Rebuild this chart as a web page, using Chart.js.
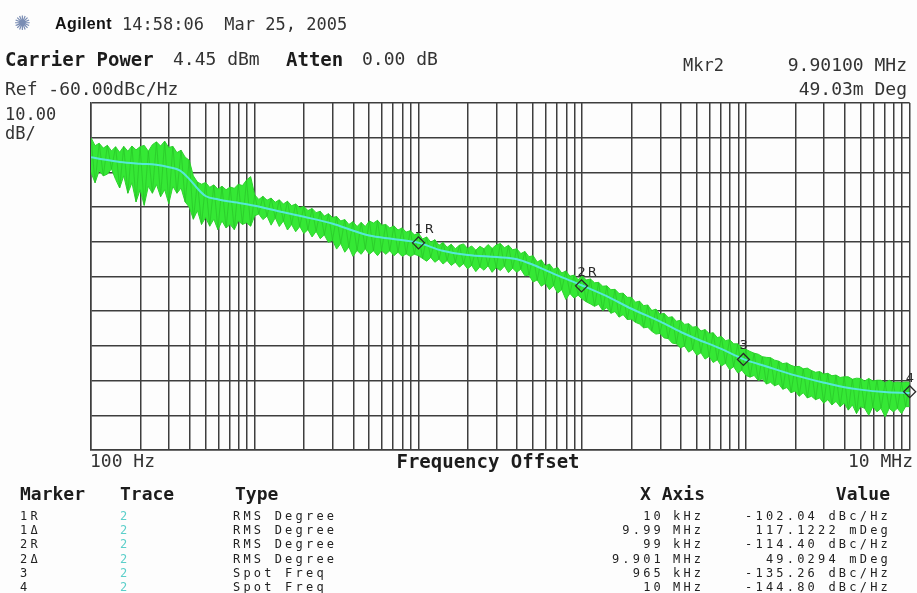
<!DOCTYPE html>
<html><head><meta charset="utf-8">
<script src="https://cdn.jsdelivr.net/npm/chart.js@4.4.1/dist/chart.umd.min.js"></script>
<style>
html,body{margin:0;padding:0;background:#fff;}
#wrap{position:relative;width:917px;height:593px;overflow:hidden;background:#fdfdfd;}
#c{position:absolute;left:0;top:0;}
.t{position:absolute;white-space:pre;color:#1c1c1c;font-family:"DejaVu Sans Mono",monospace;line-height:20px;height:20px;}
.b{font-weight:bold;}
.r{text-align:right;}
.row{position:absolute;white-space:pre;font-family:"DejaVu Sans Mono",monospace;font-size:12px;letter-spacing:3.2px;line-height:14px;height:14px;color:#222;}
</style></head>
<body>
<div id="wrap">
<canvas id="c" width="917" height="593"></canvas>
<div class="t" style="left:14px;top:12px;font-family:'DejaVu Sans';font-size:20px;color:#7a8db4;line-height:22px;height:22px;">✺</div>
<div class="t b" style="left:55px;top:14px;font-family:'Liberation Sans';font-size:16px;letter-spacing:0.4px;color:#111;">Agilent</div>
<div class="t" style="left:122px;top:14px;font-size:17px;color:#333;">14:58:06  Mar 25, 2005</div>
<div class="t b" style="left:5px;top:49px;font-size:19px;">Carrier Power</div>
<div class="t" style="left:173px;top:49px;font-size:18px;color:#333;">4.45 dBm</div>
<div class="t b" style="left:286px;top:49px;font-size:19px;">Atten</div>
<div class="t" style="left:362px;top:49px;font-size:18px;color:#333;">0.00 dB</div>
<div class="t" style="left:683px;top:55px;font-size:17px;color:#333;">Mkr2</div>
<div class="t r" style="left:705px;width:202px;top:55px;font-size:18px;color:#333;">9.90100 MHz</div>
<div class="t" style="left:5px;top:79px;font-size:18px;color:#333;">Ref -60.00dBc/Hz</div>
<div class="t r" style="left:705px;width:202px;top:79px;font-size:18px;color:#333;">49.03m Deg</div>
<div class="t" style="left:5px;top:104px;font-size:17px;color:#333;">10.00</div>
<div class="t" style="left:5px;top:123px;font-size:17px;color:#333;">dB/</div>
<div class="t" style="left:90px;top:451px;font-size:18px;color:#333;">100 Hz</div>
<div class="t b" style="left:288px;width:400px;text-align:center;top:451px;font-size:19px;">Frequency Offset</div>
<div class="t r" style="left:713px;width:200px;top:451px;font-size:18px;color:#333;">10 MHz</div>
<div class="t b" style="left:20px;top:484px;font-size:18px;">Marker</div>
<div class="t b" style="left:120px;top:484px;font-size:18px;">Trace</div>
<div class="t b" style="left:235px;top:484px;font-size:18px;">Type</div>
<div class="t b r" style="left:505px;width:200px;top:484px;font-size:18px;">X Axis</div>
<div class="t b r" style="left:690px;width:200px;top:484px;font-size:18px;">Value</div>
<div id="rows"></div>
</div>
<script>
// ---- data ----
const decadeStarts = [100, 1000, 10000, 100000, 1000000];
const bandSteps = [1.000,1.059,1.122,1.189,1.259,1.334,1.413,1.496,1.585,1.679,1.778,1.884,1.995,2.113,2.239,2.371,2.512,2.661,2.818,2.985,3.162,3.350,3.548,3.758,3.981,4.217,4.467,4.732,5.012,5.309,5.623,5.957,6.310,6.683,7.079,7.499,7.943,8.414,8.913,9.441];
const upperD1 = [-70.0,-72.3,-71.6,-73.0,-72.2,-73.8,-72.6,-74.2,-72.5,-73.9,-72.4,-73.5,-72.6,-72.2,-73.9,-72.0,-71.2,-72.4,-71.0,-72.8,-72.5,-74.3,-73.6,-75.6,-76.5,-81.0,-82.8,-83.4,-82.9,-84.3,-83.6,-84.8,-84.0,-85.0,-84.2,-84.6,-83.4,-83.8,-82.2,-81.2];
const lowerD1 = [-80.0,-83.0,-79.5,-81.0,-80.5,-79.0,-82.0,-84.5,-81.0,-86.0,-83.0,-88.5,-85.0,-89.5,-84.0,-86.0,-83.5,-87.0,-85.0,-89.0,-84.0,-86.0,-84.5,-88.5,-90.0,-93.5,-91.0,-95.0,-93.0,-95.5,-93.5,-96.5,-94.0,-96.0,-95.0,-96.5,-94.0,-95.0,-94.5,-95.5];
const upperD2 = [-86.5,-87.8,-86.9,-88.0,-87.4,-88.6,-87.9,-89.1,-88.3,-89.6,-89.1,-90.2,-89.8,-91.0,-90.4,-91.6,-91.2,-92.6,-91.9,-93.0,-92.7,-94.0,-93.6,-95.0,-94.2,-95.6,-94.4,-95.6,-94.0,-94.6,-93.8,-95.2,-95.0,-96.0,-95.4,-96.6,-96.0,-97.2,-96.8,-98.0];
const lowerD2 = [-92.5,-92.0,-93.6,-92.6,-95.2,-93.1,-95.6,-94.0,-96.6,-95.0,-97.1,-95.6,-97.6,-96.5,-98.6,-97.0,-99.1,-98.0,-100.2,-99.5,-102.1,-100.5,-103.0,-101.5,-104.2,-102.5,-103.6,-102.0,-103.6,-102.6,-104.0,-102.5,-103.6,-102.6,-104.0,-103.0,-104.2,-103.5,-104.2,-103.6];
const upperD3 = [-97.5,-99.2,-98.6,-100.1,-99.4,-101.0,-100.2,-101.6,-100.7,-102.0,-101.0,-100.6,-101.9,-101.2,-102.4,-101.3,-102.0,-100.8,-101.9,-100.9,-100.5,-101.7,-101.0,-102.3,-102.0,-103.4,-102.8,-104.3,-104.0,-105.8,-105.2,-106.9,-106.4,-107.9,-107.4,-109.0,-108.4,-109.9,-109.6,-110.9];
const lowerD3 = [-104.0,-104.8,-105.6,-104.5,-105.9,-105.0,-106.4,-105.4,-106.8,-105.9,-107.3,-106.3,-107.8,-106.8,-108.6,-107.2,-108.2,-106.9,-108.8,-107.4,-108.3,-107.0,-108.9,-107.6,-108.8,-107.9,-109.8,-109.6,-111.6,-111.0,-112.8,-112.0,-113.8,-112.6,-114.8,-113.8,-116.6,-114.9,-116.2,-115.4];
const upperD4 = [-109.8,-111.0,-110.7,-111.8,-111.7,-112.8,-112.7,-113.8,-113.7,-114.9,-114.8,-116.0,-116.0,-117.4,-117.1,-118.4,-118.2,-119.8,-119.4,-120.9,-120.6,-121.8,-121.6,-122.9,-122.6,-123.8,-123.6,-124.6,-124.4,-125.7,-125.3,-126.4,-126.2,-127.6,-127.3,-128.5,-128.2,-129.4,-129.4,-130.6];
const lowerD4 = [-116.5,-117.3,-117.9,-118.6,-118.0,-119.8,-119.0,-120.6,-120.1,-121.7,-121.0,-122.4,-122.3,-123.2,-123.7,-124.8,-124.6,-125.8,-126.6,-126.4,-127.7,-127.9,-129.2,-129.4,-130.6,-130.0,-131.8,-131.0,-132.7,-132.0,-133.8,-133.0,-134.8,-134.0,-135.8,-135.0,-136.8,-136.0,-137.8,-137.0];
const upperD5 = [-131.0,-131.6,-132.1,-132.4,-133.1,-133.3,-133.4,-134.1,-134.4,-135.1,-134.9,-135.6,-136.0,-135.9,-136.6,-136.4,-137.1,-137.6,-137.4,-138.1,-137.9,-138.6,-138.4,-139.1,-138.9,-138.9,-139.6,-139.3,-139.4,-140.1,-139.4,-140.1,-139.9,-139.9,-140.6,-139.9,-140.6,-140.4,-140.6,-140.4];
const lowerD5 = [-138.5,-139.0,-138.5,-140.0,-139.5,-141.0,-140.5,-141.5,-141.0,-142.5,-142.0,-143.5,-143.0,-144.5,-143.5,-145.0,-144.5,-145.5,-145.0,-146.5,-145.5,-147.0,-146.0,-147.5,-146.5,-148.5,-147.0,-149.5,-147.5,-148.0,-150.0,-147.5,-149.0,-148.0,-150.5,-148.0,-149.0,-148.0,-149.5,-147.5];
const bandEndFreq = 10000000, bandEndUpper = -140.5, bandEndLower = -147.5;

const smoothFreq  = [100,120,150,200,250,300,350,400,450,500,600,700,800,1000,1400,2000,3000,4000,5000,7000,10000,14000,20000,30000,40000,50000,70000,100000,140000,200000,300000,400000,500000,700000,965000,1350000,2000000,3000000,4000000,5000000,7000000,10000000];
const smoothLevel = [-75.6,-76.3,-77.0,-77.5,-77.8,-78.5,-79.5,-82.0,-84.8,-86.8,-87.8,-88.4,-88.8,-89.6,-91.2,-92.8,-94.8,-96.8,-98.2,-99.2,-100.3,-102.6,-103.8,-104.4,-105.0,-106.6,-109.6,-112.6,-115.6,-119.3,-123.0,-126.0,-128.0,-130.8,-133.8,-136.0,-138.5,-140.6,-141.9,-142.6,-143.3,-143.6];

const markerFreq  = [10000, 99000, 965000, 10000000];
const markerLevel = [-100.3, -112.7, -133.9, -143.2];
const markerLabels = ['1R','2R','3','4'];

const xMin = 100, xMax = 10000000, yMin = -160, yMax = -60, yStep = 10;
const gridMultipliers = [1,2,3,4,5,6,7,8,9];

const tableMarker = ['1R','1\u0394','2R','2\u0394','3','4'];
const tableTrace  = ['2','2','2','2','2','2'];
const tableType   = ['RMS Degree','RMS Degree','RMS Degree','RMS Degree','Spot Freq','Spot Freq'];
const tableXNum   = ['10','9.99','99','9.901','965','10'];
const tableXUnit  = ['kHz','MHz','kHz','MHz','kHz','MHz'];
const tableValue  = ['-102.04 dBc/Hz','117.1222 mDeg','-114.40 dBc/Hz','49.0294 mDeg','-135.26 dBc/Hz','-144.80 dBc/Hz'];

// ---- build tables ----
const upperAll = [upperD1,upperD2,upperD3,upperD4,upperD5];
const lowerAll = [lowerD1,lowerD2,lowerD3,lowerD4,lowerD5];
const upperPts = [], lowerPts = [];
decadeStarts.forEach((d, di) => {
  bandSteps.forEach((s, si) => {
    upperPts.push({x: d * s, y: upperAll[di][si]});
    lowerPts.push({x: d * s, y: lowerAll[di][si]});
  });
});
upperPts.push({x: bandEndFreq, y: bandEndUpper});
lowerPts.push({x: bandEndFreq, y: bandEndLower});
// raw trace swinging between the read peak and dip of each sample
const rawPts = upperPts.map((p, i) => (i % 2 === 0 ? p : lowerPts[i]));
const smoothPts = smoothFreq.map((f, i) => ({x: f, y: smoothLevel[i]}));
const markerPts = markerFreq.map((f, i) => ({x: f, y: markerLevel[i]}));
const xGridFreqs = [];
decadeStarts.forEach(d => gridMultipliers.forEach(m => xGridFreqs.push(d * m)));
xGridFreqs.push(xMax);

// ---- table rows ----
const rowsEl = document.getElementById('rows');
tableMarker.forEach((m, i) => {
  const top = 509 + i * 14.2;
  const mk = (left, text, extra) => {
    const d = document.createElement('div');
    d.className = 'row';
    d.style.cssText += extra || '';
    d.style.top = top + 'px';
    d.style.left = left + 'px';
    d.textContent = text;
    rowsEl.appendChild(d);
    return d;
  };
  mk(20, m);
  mk(120, tableTrace[i], 'color:#5ccfca;');
  mk(233, tableType[i]);
  mk(461, tableXNum[i], 'width:203px;text-align:right;');
  mk(673, tableXUnit[i]);
  mk(688, tableValue[i], 'width:203px;text-align:right;');
});

// ---- chart ----
const gridColor = '#3e3e3e';
const markerLabelPlugin = {
  id: 'mkLabels',
  afterDatasetsDraw(chart) {
    const meta = chart.getDatasetMeta(0);
    const ctx = chart.ctx;
    ctx.save();
    ctx.font = '13px "DejaVu Sans"';
    ctx.fillStyle = '#2a2a2a';
    ctx.textBaseline = 'alphabetic';
    try { ctx.letterSpacing = '2px'; } catch (e) {}
    meta.data.forEach((pt, i) => {
      ctx.fillText(markerLabels[i], pt.x - 4, pt.y - 10);
    });
    ctx.restore();
  }
};

new Chart(document.getElementById('c'), {
  type: 'line',
  data: {
    datasets: [
      { label: 'markers', data: markerPts, showLine: false, pointStyle: 'rectRot', pointRadius: 6,
        pointBorderColor: '#2a2a2a', pointBackgroundColor: 'rgba(0,0,0,0)', pointBorderWidth: 1.3, clip: false, order: 0 },
      { label: 'smoothed', data: smoothPts, borderColor: '#55e8d8', borderWidth: 2, pointRadius: 0,
        cubicInterpolationMode: 'monotone', fill: false, order: 1 },
      { label: 'raw', data: rawPts, borderColor: '#27bd27', borderWidth: 0.6, pointRadius: 0, fill: false, order: 2 },
      { label: 'upper', data: upperPts, borderColor: '#2fd42f', borderWidth: 1, pointRadius: 0, fill: false, order: 3 },
      { label: 'lower', data: lowerPts, borderColor: '#2fd42f', borderWidth: 1, pointRadius: 0,
        fill: '-1', backgroundColor: '#35e835', order: 4 }
    ]
  },
  options: {
    responsive: false,
    animation: false,
    events: [],
    layout: { padding: { left: 91, right: 5, top: 103, bottom: 143 } },
    plugins: { legend: { display: false }, tooltip: { enabled: false } },
    scales: {
      x: {
        type: 'logarithmic', min: xMin, max: xMax,
        afterBuildTicks: s => { s.ticks = xGridFreqs.map(v => ({ value: v })); },
        afterFit: s => { s.height = 0; },
        ticks: { display: false, autoSkip: false },
        grid: { color: gridColor, lineWidth: 1.5, drawTicks: false },
        border: { display: true, color: gridColor, width: 1.5 }
      },
      y: {
        type: 'linear', min: yMin, max: yMax,
        afterFit: s => { s.width = 0; },
        ticks: { display: false, stepSize: yStep },
        grid: { color: gridColor, lineWidth: 1.5, drawTicks: false },
        border: { display: true, color: gridColor, width: 1.5 }
      }
    }
  },
  plugins: [markerLabelPlugin]
});
</script>
</body></html>
